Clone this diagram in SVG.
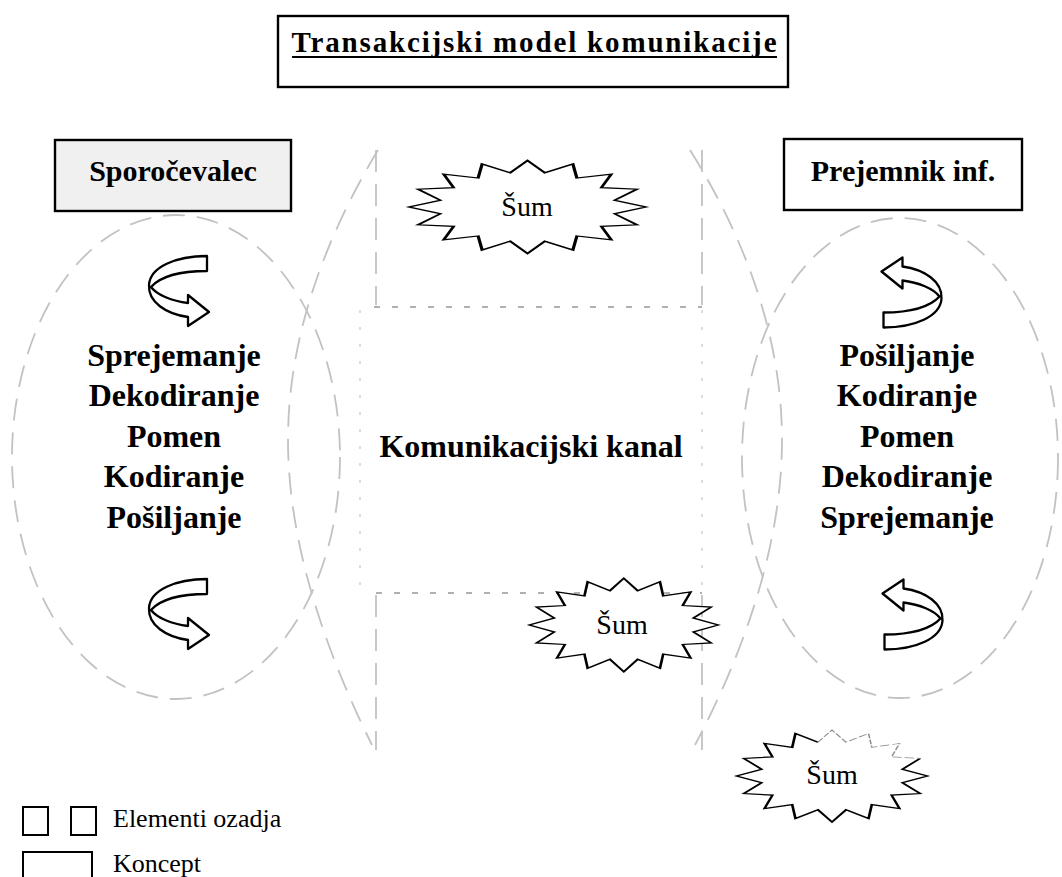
<svg xmlns="http://www.w3.org/2000/svg" xmlns:xlink="http://www.w3.org/1999/xlink" width="1062" height="877" viewBox="0 0 1062 877">
<style>
.bold{font-family:"Liberation Serif","Times New Roman",serif;font-weight:bold;font-size:32px;fill:#000;text-anchor:middle}
.reg{font-family:"Liberation Serif","Times New Roman",serif;font-size:28px;fill:#000;text-anchor:middle}
.leg{font-family:"Liberation Serif","Times New Roman",serif;font-size:26px;fill:#000}
.box{fill:#fff;stroke:#000;stroke-width:2.4}
.faint{fill:none;stroke:#c2c2c2;stroke-width:1.8;stroke-dasharray:22 12}
.fainter{fill:none;stroke:#d2d2d2;stroke-width:1.5;stroke-dasharray:3 14}
.starf{fill:#fff;stroke:#000;stroke-width:2.8;vector-effect:non-scaling-stroke;stroke-linejoin:miter}
.starnone{fill:#fff;stroke:none}
.starb{fill:none;stroke:#000;stroke-width:2.8;vector-effect:non-scaling-stroke}
.starg{fill:none;stroke:#8a8a8a;stroke-width:1.6;stroke-dasharray:10 3;vector-effect:non-scaling-stroke}
.arrow{fill:#fff;stroke:#000;stroke-width:2.3;stroke-linejoin:round}
.legbox{fill:none;stroke:#000;stroke-width:2}
</style>
<defs>
<path id="star16" d="M100,0 L73.56,14.63 L92.39,38.27 L62.36,41.67 L70.71,70.71 L41.67,62.36 L38.27,92.39 L14.63,73.56 L0,100 L-14.63,73.56 L-38.27,92.39 L-41.67,62.36 L-70.71,70.71 L-62.36,41.67 L-92.39,38.27 L-73.56,14.63 L-100,0 L-73.56,-14.63 L-92.39,-38.27 L-62.36,-41.67 L-70.71,-70.71 L-41.67,-62.36 L-38.27,-92.39 L-14.63,-73.56 L0,-100 L14.63,-73.56 L38.27,-92.39 L41.67,-62.36 L70.71,-70.71 L62.36,-41.67 L92.39,-38.27 L73.56,-14.63 Z"/>
<path id="star16black" d="M92.39,-38.27 L73.56,-14.63 L100,0 L73.56,14.63 L92.39,38.27 L62.36,41.67 L70.71,70.71 L41.67,62.36 L38.27,92.39 L14.63,73.56 L0,100 L-14.63,73.56 L-38.27,92.39 L-41.67,62.36 L-70.71,70.71 L-62.36,41.67 L-92.39,38.27 L-73.56,14.63 L-100,0 L-73.56,-14.63 L-92.39,-38.27 L-62.36,-41.67 L-70.71,-70.71 L-41.67,-62.36 L-38.27,-92.39 L-14.63,-73.56"/>
<path id="star16gray" d="M-14.63,-73.56 L0,-100 L14.63,-73.56 L38.27,-92.39 L41.67,-62.36 L70.71,-70.71 L62.36,-41.67 L92.39,-38.27"/>
<path id="curvArrow" d="M207,256 C176,256 150,267 149,285 C148,302 166,314 188,317 L188,326 L209,312 L188,295 L188,303 C172,301 157,295 151,287 C160,277 180,271 207,271 Z"/>
</defs>

<g id="background">
  <ellipse class="faint" cx="176" cy="457" rx="164" ry="242"/>
  <ellipse class="faint" cx="900" cy="458" rx="158" ry="240"/>
  <path class="faint" d="M378,150 C330,230 288,330 288,440 C288,550 330,660 372,745"/>
  <path class="faint" d="M690,150 C740,230 782,330 782,440 C782,550 740,660 695,745"/>
  <path class="faint" d="M376,150 L376,305 M702,150 L702,305 M376,595 L376,750 M702,595 L702,750"/>
  <path class="fainter" d="M360,310 L360,590 M702,310 L702,590"/>
  <path class="fainter" d="M374,307 L702,307 M376,593 L702,593" style="stroke:#b0b0b0;stroke-width:2;stroke-dasharray:6 12"/>
</g>

<g id="title">
  <rect class="box" x="278" y="16" width="510" height="71"/>
  <text class="bold" x="534" y="52" textLength="485" lengthAdjust="spacing" style="font-size:29px">Transakcijski model komunikacije</text>
  <line x1="292" y1="57" x2="777" y2="57" stroke="#000" stroke-width="2"/>
</g>

<g id="sender">
  <rect class="box" x="55" y="140" width="236" height="71" style="fill:#f0f0f0"/>
  <text class="bold" x="173" y="181" style="font-size:30px">Sporočevalec</text>
</g>

<g id="receiver">
  <rect class="box" x="784" y="139" width="238" height="71"/>
  <text class="bold" x="903" y="181" style="font-size:30px">Prejemnik inf.</text>
</g>

<g id="sender-process">
  <use href="#curvArrow" xlink:href="#curvArrow" class="arrow"/>
  <use href="#curvArrow" xlink:href="#curvArrow" class="arrow" transform="translate(0,323)"/>
  <text class="bold" x="174" y="366">Sprejemanje</text>
  <text class="bold" x="174" y="406">Dekodiranje</text>
  <text class="bold" x="174" y="447">Pomen</text>
  <text class="bold" x="174" y="487">Kodiranje</text>
  <text class="bold" x="174" y="528">Pošiljanje</text>
</g>

<g id="receiver-process">
  <use href="#curvArrow" xlink:href="#curvArrow" class="arrow" transform="translate(1090.5,583.5) scale(-1,-1)"/>
  <use href="#curvArrow" xlink:href="#curvArrow" class="arrow" transform="translate(1091.5,905.5) scale(-1,-1)"/>
  <text class="bold" x="907" y="366">Pošiljanje</text>
  <text class="bold" x="907" y="406">Kodiranje</text>
  <text class="bold" x="907" y="447">Pomen</text>
  <text class="bold" x="907" y="487">Dekodiranje</text>
  <text class="bold" x="907" y="528">Sprejemanje</text>
</g>

<g id="channel">
  <text class="bold" x="531" y="457">Komunikacijski kanal</text>
</g>

<g id="noise1">
  <use href="#star16" xlink:href="#star16" class="starf" transform="translate(527.5,207) scale(1.185,0.465)"/>
  <text class="reg" x="527" y="216">Šum</text>
</g>

<g id="noise2">
  <use href="#star16" xlink:href="#star16" class="starf" transform="translate(623.8,625) scale(0.945,0.467)"/>
  <text class="reg" x="622" y="634">Šum</text>
</g>

<g id="noise3">
  <use href="#star16" xlink:href="#star16" class="starnone" transform="translate(832,776) scale(0.955,0.46)"/>
  <use href="#star16black" xlink:href="#star16black" class="starb" transform="translate(832,776) scale(0.955,0.46)"/>
  <use href="#star16gray" xlink:href="#star16gray" class="starg" transform="translate(832,776) scale(0.955,0.46)"/>
  <text class="reg" x="832" y="784">Šum</text>
</g>

<g id="connectors"></g>

<g id="legend">
  <rect class="legbox" x="23" y="807" width="25" height="28"/>
  <rect class="legbox" x="71" y="807" width="25" height="28"/>
  <text class="leg" x="113" y="827">Elementi ozadja</text>
  <rect class="legbox" x="23" y="852" width="69" height="30"/>
  <text class="leg" x="113" y="872">Koncept</text>
</g>
</svg>
